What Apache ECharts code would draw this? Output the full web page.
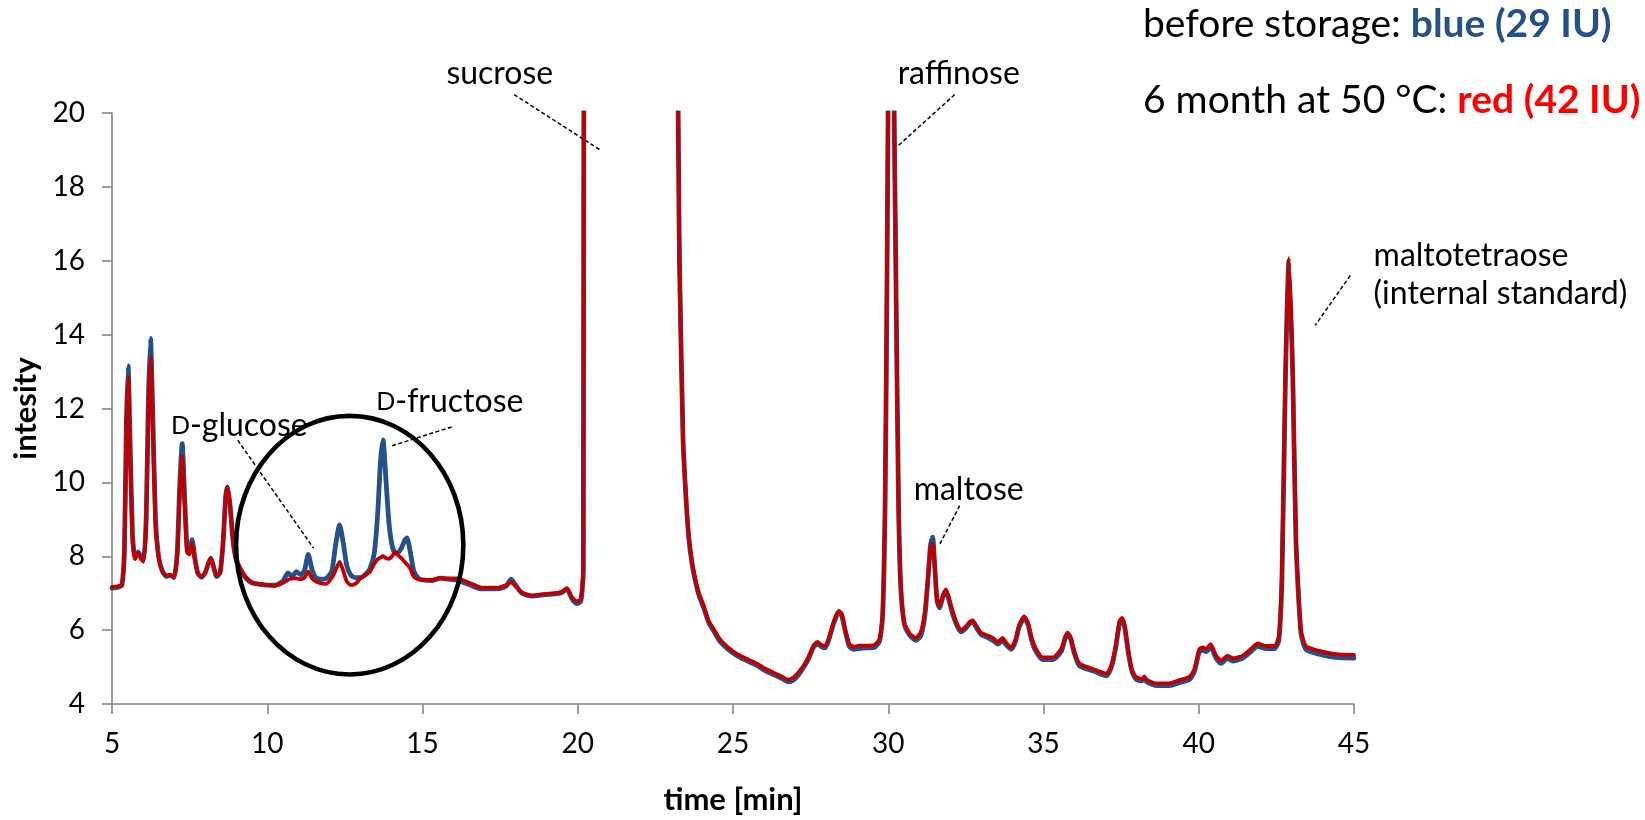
<!DOCTYPE html>
<html>
<head>
<meta charset="utf-8">
<title>Sugar profile chromatogram</title>
<script src="https://cdn.jsdelivr.net/npm/echarts@6/dist/echarts.min.js"></script>
<style>
  html, body { margin: 0; padding: 0; background: #ffffff; }
  #chart { width: 1645px; height: 820px; }
</style>
</head>
<body>
<div id="chart"></div>
<script>
// Retention time (min) shared by both runs
const timeMin = [
  5.00, 5.20, 5.32, 5.40, 5.46, 5.52, 5.58, 5.66, 5.74, 5.84, 5.94, 6.02, 6.10, 6.17, 6.24, 6.31, 6.40, 6.50, 6.62, 6.75,
  6.88, 7.00, 7.10, 7.18, 7.26, 7.34, 7.42, 7.50, 7.58, 7.66, 7.76, 7.88, 8.00, 8.10, 8.18, 8.26, 8.37, 8.48, 8.58, 8.66,
  8.72, 8.80, 8.90, 9.00, 9.15, 9.30, 9.50, 9.75, 10.00, 10.25, 10.50, 10.67, 10.80, 10.94, 11.08, 11.20, 11.32, 11.44, 11.56, 11.72,
  11.90, 12.08, 12.20, 12.33, 12.45, 12.56, 12.70, 12.85, 13.00, 13.15, 13.30, 13.45, 13.56, 13.65, 13.73, 13.82, 13.92, 14.02, 14.12, 14.22,
  14.32, 14.42, 14.50, 14.60, 14.72, 14.85, 15.00, 15.30, 15.57, 15.80, 16.10, 16.48, 16.86, 17.20, 17.50, 17.70, 17.85, 18.00, 18.20, 18.52,
  18.95, 19.27, 19.49, 19.65, 19.81, 19.97, 20.10, 20.18, 20.22, 21.70, 23.10, 23.28, 23.39, 23.47, 23.57, 23.68, 23.80, 23.90, 24.05, 24.22,
  24.40, 24.54, 24.75, 25.00, 25.25, 25.50, 25.80, 26.03, 26.30, 26.55, 26.78, 26.95, 27.10, 27.28, 27.43, 27.60, 27.72, 27.85, 27.97, 28.10,
  28.25, 28.40, 28.50, 28.62, 28.75, 28.90, 29.05, 29.30, 29.55, 29.72, 29.82, 29.90, 29.96, 30.00, 30.09, 30.18, 30.26, 30.33, 30.40, 30.52,
  30.70, 30.89, 31.05, 31.18, 31.28, 31.36, 31.43, 31.50, 31.57, 31.65, 31.76, 31.86, 31.96, 32.07, 32.20, 32.34, 32.50, 32.62, 32.72, 32.85,
  32.99, 33.20, 33.37, 33.53, 33.68, 33.80, 33.96, 34.10, 34.22, 34.38, 34.50, 34.62, 34.76, 34.98, 35.30, 35.57, 35.70, 35.78, 35.88, 36.00,
  36.16, 36.59, 37.02, 37.18, 37.32, 37.45, 37.53, 37.62, 37.73, 37.85, 37.98, 38.18, 38.25, 38.32, 38.63, 39.06, 39.38, 39.70, 39.86, 40.02,
  40.13, 40.24, 40.38, 40.56, 40.72, 40.93, 41.09, 41.42, 41.68, 41.90, 42.17, 42.44, 42.58, 42.68, 42.79, 42.90, 43.03, 43.13, 43.29, 43.45,
  43.88, 44.42, 45.00
];

// Detector signal before storage
const blueSignal = [
  7.14, 7.16, 7.22, 8.2, 11.5, 13.15, 11.2, 8.6, 7.95, 8.12, 7.98, 7.9, 9.0, 12.2, 13.9, 12.0, 9.0, 8.0, 7.6, 7.45,
  7.48, 7.42, 8.1, 9.9, 11.05, 9.6, 8.2, 8.15, 8.45, 8.0, 7.55, 7.43, 7.55, 7.8, 7.95, 7.75, 7.45, 7.55, 8.4, 9.6,
  9.88, 9.4, 8.4, 7.9, 7.62, 7.42, 7.28, 7.24, 7.22, 7.22, 7.32, 7.55, 7.45, 7.58, 7.5, 7.62, 8.05, 7.65, 7.42, 7.38,
  7.4, 7.6, 8.3, 8.85, 8.35, 7.75, 7.48, 7.42, 7.42, 7.5, 7.65, 8.1, 9.2, 10.6, 11.15, 10.1, 8.9, 8.3, 8.08, 8.1,
  8.22, 8.42, 8.5, 8.15, 7.6, 7.42, 7.36, 7.34, 7.4, 7.38, 7.36, 7.24, 7.12, 7.12, 7.13, 7.2, 7.38, 7.22, 7.0, 6.92,
  6.96, 6.98, 7.02, 7.12, 6.85, 6.72, 6.78, 7.6, 30, 40, 26, 15.8, 11.2, 9.8, 8.55, 7.8, 7.28, 6.95, 6.62, 6.2,
  5.95, 5.74, 5.55, 5.38, 5.25, 5.15, 5.03, 4.9, 4.8, 4.7, 4.6, 4.65, 4.78, 5.0, 5.22, 5.55, 5.62, 5.55, 5.52, 5.78,
  6.2, 6.48, 6.4, 5.95, 5.55, 5.48, 5.5, 5.52, 5.53, 5.7, 6.4, 9.5, 15.5, 20.8, 28, 20.8, 14.5, 9.5, 7.2, 6.15,
  5.85, 5.72, 5.85, 6.4, 7.4, 8.3, 8.52, 7.7, 6.8, 6.6, 6.9, 7.05, 6.8, 6.45, 6.15, 5.95, 6.05, 6.18, 6.22, 6.05,
  5.88, 5.8, 5.72, 5.62, 5.72, 5.6, 5.48, 5.7, 6.1, 6.32, 6.15, 5.72, 5.42, 5.2, 5.2, 5.42, 5.78, 5.88, 5.75, 5.35,
  5.03, 4.9, 4.76, 4.98, 5.5, 6.2, 6.3, 6.05, 5.4, 4.88, 4.67, 4.63, 4.7, 4.6, 4.5, 4.5, 4.58, 4.66, 4.88, 5.42,
  5.45, 5.42, 5.55, 5.24, 5.1, 5.24, 5.16, 5.24, 5.42, 5.56, 5.5, 5.5, 5.72, 7.4, 12.7, 15.98, 12.8, 8.4, 5.92, 5.48,
  5.35, 5.26, 5.24
];

// Detector signal after 6 months at 50 °C
const redSignal = [
  7.17, 7.19, 7.24, 8.1, 11.2, 12.85, 10.9, 8.5, 7.92, 8.08, 7.92, 7.85, 8.9, 11.8, 13.4, 11.6, 8.9, 7.95, 7.6, 7.48,
  7.5, 7.45, 8.0, 9.6, 10.72, 9.4, 8.1, 8.05, 8.35, 7.95, 7.55, 7.45, 7.55, 7.8, 7.95, 7.75, 7.48, 7.55, 8.4, 9.6,
  9.88, 9.4, 8.4, 7.9, 7.65, 7.45, 7.3, 7.25, 7.22, 7.2, 7.28, 7.36, 7.4, 7.4, 7.38, 7.42, 7.58, 7.4, 7.32, 7.27,
  7.25, 7.42, 7.62, 7.85, 7.6, 7.32, 7.22, 7.26, 7.4, 7.48, 7.58, 7.8, 7.92, 7.97, 8.0, 7.95, 7.93, 8.0, 8.12, 8.02,
  7.95, 7.85, 7.78, 7.68, 7.45, 7.38, 7.36, 7.36, 7.42, 7.4, 7.4, 7.29, 7.16, 7.15, 7.16, 7.22, 7.3, 7.18, 7.02, 6.94,
  6.98, 7.0, 7.04, 7.13, 6.89, 6.78, 6.84, 7.7, 30, 40, 26, 15.8, 11.2, 9.85, 8.6, 7.85, 7.33, 7.0, 6.68, 6.25,
  6.0, 5.8, 5.6, 5.43, 5.3, 5.2, 5.08, 4.96, 4.85, 4.75, 4.66, 4.72, 4.85, 5.05, 5.27, 5.6, 5.68, 5.6, 5.58, 5.82,
  6.25, 6.52, 6.45, 6.0, 5.62, 5.55, 5.58, 5.58, 5.6, 5.75, 6.45, 9.6, 15.6, 20.8, 28, 20.8, 14.5, 9.5, 7.3, 6.2,
  5.9, 5.79, 5.95, 6.5, 7.4, 8.2, 8.35, 7.7, 6.85, 6.65, 6.95, 7.1, 6.85, 6.52, 6.2, 6.0, 6.1, 6.22, 6.26, 6.1,
  5.93, 5.85, 5.79, 5.68, 5.79, 5.65, 5.53, 5.75, 6.15, 6.37, 6.2, 5.79, 5.49, 5.26, 5.26, 5.49, 5.82, 5.93, 5.8, 5.4,
  5.09, 4.95, 4.82, 5.04, 5.55, 6.25, 6.33, 6.1, 5.45, 4.92, 4.73, 4.68, 4.75, 4.66, 4.56, 4.56, 4.65, 4.73, 4.95, 5.49,
  5.53, 5.49, 5.62, 5.31, 5.18, 5.31, 5.24, 5.31, 5.49, 5.64, 5.57, 5.57, 5.84, 7.6, 12.9, 16.08, 12.9, 8.5, 6.02, 5.57,
  5.44, 5.35, 5.33
];

// Axis ticks
const timeTicks = [5, 10, 15, 20, 25, 30, 35, 40, 45];
const intensityTicks = [4, 6, 8, 10, 12, 14, 16, 18, 20];

// Peak names written on the chart
const peakLabels = ['sucrose', 'raffinose', 'D-glucose', 'D-fructose', 'maltose', 'maltotetraose\n(internal standard)'];

// Sample legend lines: [prefix, highlighted part]
const sampleLegend = [
  ['before storage: ', 'blue (29 IU)'],
  ['6 month at 50 \u00B0C: ', 'red (42 IU)']
];

const FONT = 'Lato, "Open Sans", "DejaVu Sans", sans-serif';
const AXIS_GREY = '#868686';
const BLUE = '#26508a';
const RED = '#c00000';

const pairs = (vals) => timeMin.map((t, i) => [t, vals[i]]);

const chart = echarts.init(document.getElementById('chart'), null, { renderer: 'canvas' });

const option = {
  animation: false,
  backgroundColor: '#ffffff',
  grid: { left: 112, right: 291, top: 113, bottom: 103, containLabel: false },
  xAxis: {
    type: 'value',
    min: timeTicks[0],
    max: timeTicks[timeTicks.length - 1],
    interval: timeTicks[1] - timeTicks[0],
    name: 'time [min]',
    nameLocation: 'middle',
    nameGap: 80,
    nameTextStyle: { fontFamily: FONT, fontWeight: 'bold', fontSize: 31, color: '#000' },
    axisLine: { lineStyle: { color: AXIS_GREY, width: 1.6 } },
    axisTick: { show: true, length: 10, lineStyle: { color: AXIS_GREY, width: 1.6 } },
    axisLabel: { fontFamily: FONT, fontSize: 28, color: '#000', margin: 26 },
    splitLine: { show: false }
  },
  yAxis: {
    type: 'value',
    min: intensityTicks[0],
    max: intensityTicks[intensityTicks.length - 1],
    interval: intensityTicks[1] - intensityTicks[0],
    name: 'intesity',
    nameLocation: 'middle',
    nameRotate: 90,
    nameGap: 69,
    nameTextStyle: { fontFamily: FONT, fontWeight: 'bold', fontSize: 31, color: '#000' },
    axisLine: { show: true, lineStyle: { color: AXIS_GREY, width: 1.6 } },
    axisTick: { show: true, length: 10, lineStyle: { color: AXIS_GREY, width: 1.6 } },
    axisLabel: { fontFamily: FONT, fontSize: 28, color: '#000', margin: 27 },
    splitLine: { show: false }
  },
  series: [
    {
      name: 'before storage',
      type: 'line',
      data: pairs(blueSignal),
      showSymbol: false,
      smooth: 0.2,
      clip: true,
      lineStyle: { color: BLUE, width: 4.8, join: 'round', cap: 'round' },
      z: 2
    },
    {
      name: '6 month at 50 °C',
      type: 'line',
      data: pairs(redSignal),
      showSymbol: false,
      smooth: 0.2,
      clip: true,
      lineStyle: { color: RED, width: 3.8, join: 'round', cap: 'round' },
      z: 3
    }
  ]
};

chart.setOption(option);

// Annotation layout in data units (time, intensity)
const noteLayout = [
  { at: [17.49, 21.06], leader: [[17.95, 20.5], [20.72, 19.0]] },
  { at: [32.27, 21.06], leader: [[32.14, 20.5], [30.3, 19.1]] },
  { at: [9.10, 11.54], leader: [[9.05, 11.14], [11.49, 8.22]], smallCaps: true },
  { at: [15.88, 12.18], leader: [[15.94, 11.5], [13.94, 10.97]], smallCaps: true },
  { at: [32.59, 9.81], leader: [[32.3, 9.37], [31.66, 8.33]] },
  { at: [45.63, 15.62], leader: [[44.88, 15.6], [43.75, 14.25]], align: 'left', lineHeight: 38 }
];

// Circled region around the monosaccharides
const circleLayout = { center: [12.655, 8.3], radius: [3.66, 3.5] };

const toPx = (p) => chart.convertToPixel({ seriesIndex: 0 }, p);

const NOTE_SIZE = 32;
const graphics = [];

peakLabels.forEach((label, i) => {
  const lay = noteLayout[i];
  const p = toPx(lay.at);
  let text = label;
  const rich = {};
  if (lay.smallCaps) {
    // leading D set as a small capital
    text = '{sc|' + label.charAt(0) + '}{n|' + label.slice(1) + '}';
    rich.sc = { fontFamily: FONT, fontSize: Math.round(NOTE_SIZE * 0.78), fill: '#000' };
    rich.n = { fontFamily: FONT, fontSize: NOTE_SIZE, fill: '#000' };
  }
  graphics.push({
    type: 'text',
    x: p[0], y: p[1],
    z: 10,
    style: {
      text: text,
      rich: rich,
      fontFamily: FONT,
      fontSize: NOTE_SIZE,
      fill: '#000',
      align: lay.align || 'center',
      verticalAlign: 'middle',
      lineHeight: lay.lineHeight || NOTE_SIZE + 4
    }
  });
  const a = toPx(lay.leader[0]);
  const b = toPx(lay.leader[1]);
  graphics.push({
    type: 'line',
    z: 9,
    shape: { x1: a[0], y1: a[1], x2: b[0], y2: b[1] },
    style: { stroke: '#000', lineWidth: 1.5, lineDash: [4, 2.5] }
  });
});

const c = toPx(circleLayout.center);
const e = toPx([circleLayout.center[0] + circleLayout.radius[0], circleLayout.center[1] + circleLayout.radius[1]]);
graphics.push({
  type: 'ellipse',
  z: 8,
  shape: { cx: c[0], cy: c[1], rx: Math.abs(e[0] - c[0]), ry: Math.abs(c[1] - e[1]) },
  style: { fill: 'none', stroke: '#000', lineWidth: 4.6 }
});

// Sample legend, top right
const legendColors = [BLUE, '#ff0000'];
sampleLegend.forEach((row, i) => {
  graphics.push({
    type: 'text',
    x: 1143, y: 24 + i * 76,
    z: 10,
    style: {
      text: '{n|' + row[0] + '}{h|' + row[1] + '}',
      rich: {
        n: { fontFamily: FONT, fontSize: 39, fill: '#000' },
        h: { fontFamily: FONT, fontSize: 39, fontWeight: 'bold', fill: legendColors[i] }
      },
      fontFamily: FONT,
      fontSize: 39,
      align: 'left',
      verticalAlign: 'middle'
    }
  });
});

chart.setOption({ graphic: { elements: graphics } });
</script>
</body>
</html>
